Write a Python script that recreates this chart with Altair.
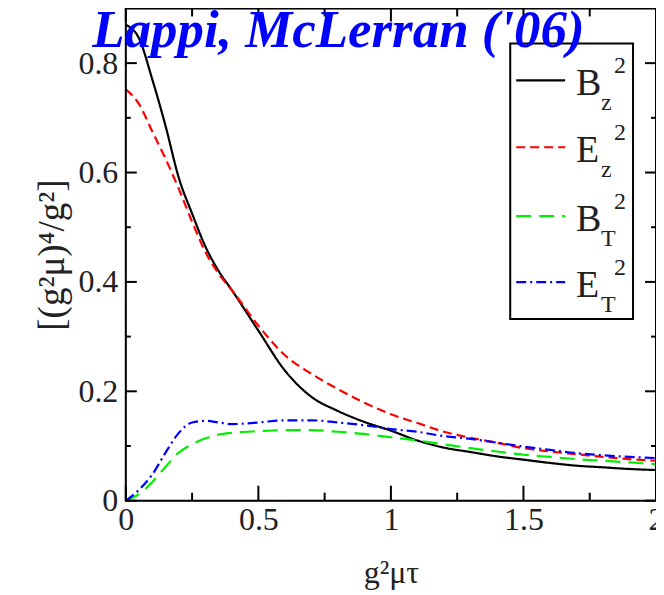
import altair as alt
import pandas as pd

# ---------------- data ----------------
t = [0, 0.05, 0.1, 0.15, 0.2, 0.25, 0.3, 0.35, 0.4, 0.5, 0.6, 0.7, 0.8, 0.9,
     1.0, 1.1, 1.2, 1.3, 1.4, 1.5, 1.6, 1.7, 1.8, 1.9, 2.0]
bz2 = [0.87, 0.845, 0.77, 0.685, 0.59, 0.525, 0.465, 0.42, 0.385, 0.311, 0.238, 0.19,
       0.164, 0.144, 0.128, 0.11, 0.097, 0.089, 0.081, 0.075, 0.069, 0.064, 0.061, 0.058, 0.056]
ez2 = [0.752, 0.725, 0.675, 0.625, 0.57, 0.51, 0.455, 0.415, 0.385, 0.32, 0.266, 0.232,
       0.204, 0.179, 0.158, 0.142, 0.126, 0.115, 0.106, 0.096, 0.09, 0.085, 0.08, 0.076, 0.073]
bt2 = [0.0, 0.012, 0.034, 0.062, 0.088, 0.103, 0.114, 0.121, 0.124, 0.127, 0.129, 0.129,
       0.126, 0.122, 0.116, 0.11, 0.103, 0.096, 0.09, 0.084, 0.08, 0.076, 0.073, 0.07, 0.067]
et2 = [0.0, 0.02, 0.048, 0.088, 0.124, 0.143, 0.146, 0.143, 0.14, 0.143, 0.147, 0.147,
       0.143, 0.138, 0.131, 0.126, 0.118, 0.113, 0.106, 0.099, 0.093, 0.087, 0.083, 0.08, 0.078]

series = ["Bz2", "Ez2", "BT2", "ET2"]
colors = ["#000000", "#ff0000", "#00ee00", "#0000ff"]
dashes = [[1, 0], [9, 5], [15, 8], [10, 4, 2, 4]]
legend_main = ["B", "E", "B", "E"]
legend_sub = ["z", "z", "T", "T"]
legend_sup = ["2", "2", "2", "2"]

x_major = [0, 0.5, 1, 1.5, 2]
x_minor = [0.25, 0.75, 1.25, 1.75]
y_major = [0, 0.2, 0.4, 0.6, 0.8]
y_minor = [0.1, 0.3, 0.5, 0.7]

title_text = "Lappi, McLerran ('06)"
x_title = "g\u00b2\u03bc\u03c4"
y_title = "[(g\u00b2\u03bc)\u2074/g\u00b2]"

# ---------------- build ----------------
W, H = 531, 493
FONT = "Liberation Serif"

rows = []
for name, vals in zip(series, [bz2, ez2, bt2, et2]):
    for ti, vi in zip(t, vals):
        rows.append({"t": ti, "v": vi, "s": name})
df = pd.DataFrame(rows)

xs = alt.Scale(domain=[0, 2], nice=False, zero=False)
ys = alt.Scale(domain=[0, 0.9], nice=False, zero=False)

xaxis = alt.Axis(
    values=x_major, format="~g", title=x_title, tickSize=4, tickColor="transparent",
    domainColor="transparent", gridOpacity=0,
    labelFont=FONT, labelFontSize=32, labelColor="#222",
    labelPadding=0, labelFlush=False, titleFont=FONT, titleFontSize=32,
    titleFontWeight="normal", titlePadding=22, titleColor="#222")
yaxis = alt.Axis(
    values=y_major, format="~g", title=y_title, tickSize=4, tickColor="transparent",
    domainColor="transparent", gridOpacity=0,
    labelFont=FONT, labelFontSize=32, labelColor="#222",
    labelPadding=4, labelFlush=False, titleFont=FONT, titleFontSize=37,
    titleFontWeight="normal", titlePadding=6, titleColor="#222")

lines = alt.Chart(df).mark_line(strokeWidth=2.2, interpolate="monotone").encode(
    x=alt.X("t:Q", scale=xs, axis=xaxis),
    y=alt.Y("v:Q", scale=ys, axis=yaxis),
    color=alt.Color("s:N", scale=alt.Scale(domain=series, range=colors), legend=None),
    strokeDash=alt.StrokeDash("s:N", scale=alt.Scale(domain=series, range=dashes), legend=None),
    detail="s:N",
)


def xtick(vals, y0, y1):
    d = pd.DataFrame({"tx": vals})
    return alt.Chart(d).mark_rule(color="black", strokeWidth=2).encode(
        x=alt.X("tx:Q", scale=xs, axis=None), y=alt.value(y0), y2=alt.value(y1))


def ytick(vals, x0, x1):
    d = pd.DataFrame({"ty": vals})
    return alt.Chart(d).mark_rule(color="black", strokeWidth=2).encode(
        y=alt.Y("ty:Q", scale=ys, axis=None), x=alt.value(x0), x2=alt.value(x1))


ticks = [
    xtick(x_major, H, H - 15),
    xtick(x_minor, H, H - 8),
    xtick(x_major, 0, 13),
    xtick(x_minor, 0, 8),
    ytick(y_major, 0, 11),
    ytick(y_minor, 0, 5),
    ytick(y_major, W, W - 11),
    ytick(y_minor, W, W - 5),
]

one = pd.DataFrame({"a": [0]})

frame = alt.Chart(one).mark_rect(fill="white", fillOpacity=0, stroke="black",
                                 strokeWidth=2).encode(
    x=alt.value(0), x2=alt.value(W), y=alt.value(0), y2=alt.value(H))

legend_box = alt.Chart(one).mark_rect(fill="white", stroke="black", strokeWidth=2).encode(
    x=alt.value(385), x2=alt.value(508), y=alt.value(35), y2=alt.value(311))

legend_layers = []
entry_y = [72, 139, 208, 274]
for i in range(4):
    ly = entry_y[i]
    legend_layers.append(
        alt.Chart(one).mark_rule(color=colors[i], strokeWidth=2.2, strokeDash=dashes[i]).encode(
            x=alt.value(391), x2=alt.value(440), y=alt.value(ly)))
    legend_layers.append(
        alt.Chart(pd.DataFrame({"l": [legend_main[i]]})).mark_text(
            font=FONT, fontSize=38, align="left", baseline="alphabetic", color="#222").encode(
            text="l:N", x=alt.value(451), y=alt.value(ly + 15)))
    legend_layers.append(
        alt.Chart(pd.DataFrame({"l": [legend_sub[i]]})).mark_text(
            font=FONT, fontSize=24, align="left", baseline="alphabetic", color="#222").encode(
            text="l:N", x=alt.value(476), y=alt.value(ly + 30)))
    legend_layers.append(
        alt.Chart(pd.DataFrame({"l": [legend_sup[i]]})).mark_text(
            font=FONT, fontSize=24, align="left", baseline="alphabetic", color="#222").encode(
            text="l:N", x=alt.value(489), y=alt.value(ly - 7)))

title = alt.Chart(pd.DataFrame({"l": [title_text]})).mark_text(
    font=FONT, fontSize=53, fontStyle="italic", fontWeight="bold", color="#0000ff",
    align="center", baseline="alphabetic").encode(
    text="l:N", x=alt.value(213), y=alt.value(39))

chart = alt.layer(lines, *ticks, frame, legend_box, *legend_layers, title).resolve_axis(
    x="independent", y="independent"
).properties(
    width=W, height=H,
    autosize=alt.AutoSizeParams(type="none"),
    padding={"left": 118, "top": 0, "right": 0, "bottom": 90},
)

chart.save("out.html", embed_options={"renderer": "svg", "actions": False})
